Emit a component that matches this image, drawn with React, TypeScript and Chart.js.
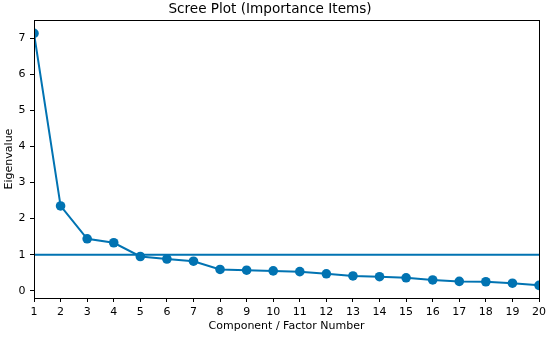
import React, { useEffect, useRef } from "react";
import { Chart, registerables } from "chart.js";

Chart.register(...registerables);

const components = [1, 2, 3, 4, 5, 6, 7, 8, 9, 10, 11, 12, 13, 14, 15, 16, 17, 18, 19, 20];
const eigenvalues = [7.13, 2.35, 1.44, 1.33, 0.95, 0.88, 0.82, 0.59, 0.57, 0.55, 0.53, 0.47, 0.41, 0.39, 0.36, 0.3, 0.26, 0.25, 0.21, 0.15];
const kaiserLine = [1, 1];
const kaiserX = [1, 20];

const COLOR = "#0173b2";
const FONT = "'DejaVu Sans', sans-serif";

const framePlugin = {
  id: "frame",
  afterDraw(chart: any) {
    const { ctx, chartArea } = chart;
    ctx.save();
    ctx.strokeStyle = "#000";
    ctx.lineWidth = 1;
    ctx.strokeRect(
      Math.round(chartArea.left) + 0.5,
      Math.round(chartArea.top) + 0.5,
      Math.round(chartArea.right - chartArea.left),
      Math.round(chartArea.bottom - chartArea.top)
    );
    ctx.restore();
  },
};

export default function App() {
  const ref = useRef<HTMLCanvasElement | null>(null);

  useEffect(() => {
    document.body.style.margin = "0";
    if (!ref.current) return;
    const chart = new Chart(ref.current, {
      type: "line",
      data: {
        datasets: [
          {
            data: kaiserX.map((x, i) => ({ x, y: kaiserLine[i] })),
            borderColor: COLOR,
            borderWidth: 2,
            pointRadius: 0,
            clip: 0,
          },
          {
            data: components.map((x, i) => ({ x, y: eigenvalues[i] })),
            borderColor: COLOR,
            backgroundColor: COLOR,
            borderWidth: 2,
            pointRadius: 4.8,
            pointBackgroundColor: COLOR,
            pointBorderWidth: 0,
            clip: 0,
          },
        ],
      },
      options: {
        animation: false,
        responsive: false,
        layout: { padding: { left: 0, right: 10, top: 0, bottom: 0 } },
        plugins: {
          legend: { display: false },
          tooltip: { enabled: false },
          title: {
            display: true,
            text: "Scree Plot (Importance Items)",
            color: "#000",
            font: { family: FONT, size: 13.6, weight: "normal" },
            padding: { top: 1.5, bottom: 2.2 },
          },
        },
        scales: {
          x: {
            type: "linear",
            min: 1,
            max: 20,
            ticks: {
              stepSize: 1,
              color: "#000",
              font: { family: FONT, size: 11 },
              padding: 4,
              maxRotation: 0,
              autoSkip: false,
            },
            grid: { drawOnChartArea: false, drawTicks: true, tickLength: 4, tickColor: "#000" },
            border: { color: "#000", width: 1 },
            title: {
              display: true,
              text: "Component / Factor Number",
              color: "#000",
              font: { family: FONT, size: 11 },
              padding: { top: 2, bottom: 4 },
            },
            afterFit: (s: any) => {
              s.height = 39;
            },
          },
          y: {
            type: "linear",
            min: -0.2,
            max: 7.5,
            afterBuildTicks: (s: any) => {
              s.ticks = [0, 1, 2, 3, 4, 5, 6, 7].map((v) => ({ value: v }));
            },
            ticks: {
              color: "#000",
              font: { family: FONT, size: 11 },
              padding: 4.5,
            },
            grid: { drawOnChartArea: false, drawTicks: true, tickLength: 4, tickColor: "#000" },
            border: { color: "#000", width: 1 },
            title: {
              display: true,
              text: "Eigenvalue",
              color: "#000",
              font: { family: FONT, size: 11 },
              padding: { top: 3, bottom: 2 },
            },
            afterFit: (s: any) => {
              s.width = 34;
            },
          },
        },
      },
      plugins: [framePlugin],
    });
    return () => chart.destroy();
  }, []);

  return (
    <div style={{ width: 550, height: 337 }}>
      <canvas ref={ref} width={550} height={337} style={{ display: "block" }} />
    </div>
  );
}
